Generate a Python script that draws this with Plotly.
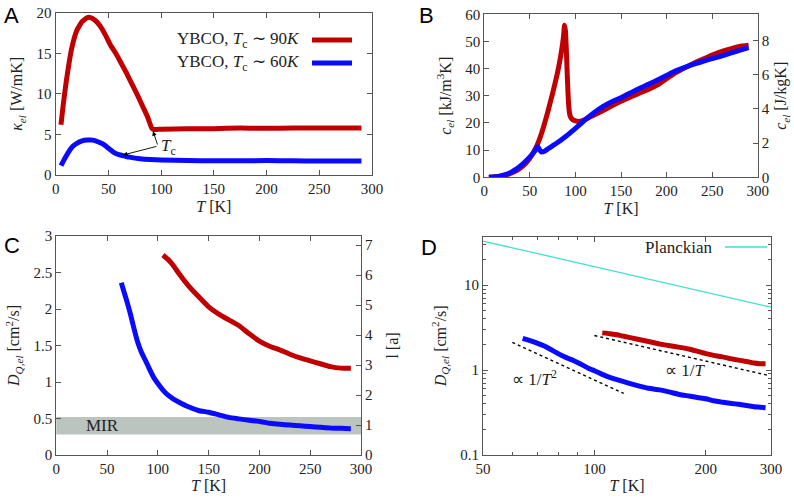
import math
import plotly.graph_objects as go

# ---------------- data ----------------
# Panel A: kappa_el [W/mK] vs T [K]
a_red_T = [5, 7, 10, 15, 20, 25, 30, 33, 37, 42, 47, 52, 57, 62, 67, 72, 77, 82, 87, 91, 93,
           100, 125, 150, 175, 200, 225, 250, 275, 290]
a_red_k = [6.2, 8.5, 11.5, 15.5, 17.8, 18.9, 19.4, 19.4, 19.1, 18.4, 17.3, 16.0, 15.0, 13.8, 12.6,
           11.3, 10.0, 8.6, 7.2, 5.8, 5.6, 5.65, 5.7, 5.7, 5.8, 5.75, 5.8, 5.8, 5.8, 5.8]
a_blue_T = [5, 8, 12, 16, 20, 25, 30, 35, 40, 45, 50, 55, 60, 65, 70, 80, 90, 100, 125, 150, 175,
            200, 225, 250, 275, 290]
a_blue_k = [1.15, 1.9, 2.8, 3.5, 3.9, 4.2, 4.3, 4.3, 4.1, 3.8, 3.3, 2.8, 2.5, 2.35, 2.2, 2.0, 1.9,
            1.85, 1.78, 1.75, 1.75, 1.78, 1.75, 1.72, 1.72, 1.72]

# Panel B: c_el [kJ/m^3K] vs T [K]
b_red_T = [5, 10, 15, 20, 25, 30, 35, 40, 45, 50, 55, 60, 65, 70, 75, 80, 84, 87, 88, 89, 90, 91,
           92, 93, 94, 96, 100, 105, 110, 120, 130, 140, 150, 160, 170, 180, 190, 200, 210, 220,
           230, 240, 250, 260, 270, 280, 290]
b_red_c = [0, 0.1, 0.3, 0.6, 1.0, 1.6, 2.4, 3.5, 5.0, 7.0, 9.8, 13.5, 18.5, 24.5, 31, 38, 45, 52,
           56, 54, 47, 38, 30, 25, 22.8, 21.5, 20.8, 20.6, 21.2, 22.8, 24.5, 26.3, 28, 29.5, 31,
           32.3, 34, 36.3, 38.5, 40.3, 42, 43.5, 45, 46.3, 47.3, 48.2, 48.6]
b_blue_T = [5, 10, 15, 20, 25, 30, 35, 40, 45, 50, 55, 58, 59, 61, 63, 66, 70, 80, 90, 100, 110,
            120, 130, 140, 150, 160, 170, 180, 190, 200, 210, 220, 230, 240, 250, 260, 270, 280, 290]
b_blue_c = [0, 0.1, 0.3, 0.7, 1.2, 2.0, 3.0, 4.3, 5.8, 7.5, 9.5, 11.0, 11.2, 10.0, 9.3, 9.6, 10.5,
            12.7, 15.2, 18, 21, 23.7, 26, 27.8, 29.3, 31, 32.7, 34.2, 35.8, 37.5, 39.2, 40.5,
            41.7, 42.7, 43.7, 44.6, 45.7, 46.7, 47.7]

# Panels C and D: D_Q,el [cm^2/s] vs T [K]
cd_red_T = [105, 110, 115, 120, 130, 140, 150, 160, 170, 180, 190, 200, 210, 220, 230, 240, 250,
            260, 270, 280, 290]
cd_red_D = [2.74, 2.68, 2.60, 2.50, 2.32, 2.17, 2.03, 1.93, 1.85, 1.77, 1.66, 1.56, 1.49, 1.44,
            1.38, 1.33, 1.29, 1.25, 1.21, 1.19, 1.19]
cd_blue_T = [64, 67, 70, 73, 76, 80, 84, 88, 92, 96, 100, 105, 110, 115, 120, 130, 140, 150, 160,
             170, 180, 190, 200, 210, 220, 230, 240, 250, 260, 270, 280, 290]
cd_blue_D = [2.36, 2.22, 2.08, 1.93, 1.76, 1.55, 1.40, 1.29, 1.17, 1.06, 0.98, 0.89, 0.82, 0.77,
             0.73, 0.66, 0.61, 0.585, 0.55, 0.515, 0.495, 0.475, 0.46, 0.435, 0.42, 0.41, 0.40,
             0.39, 0.38, 0.37, 0.365, 0.36]
mir_band = [0.28, 0.52]

planck_T = [50, 300]
planck_D = [33.0, 5.5]
guide_T2_T = [60, 120]
guide_T2_D = [2.12, 0.53]
guide_T1_T = [100, 295]
guide_T1_D = [2.55, 0.865]

legend_labels = ["YBCO, <i>T</i><sub>c</sub> ∼ 90<i>K</i>", "YBCO, <i>T</i><sub>c</sub> ∼ 60<i>K</i>"]

# ---------------- style ----------------
RED = "#c00000"
BLUE = "#0a0aff"
CYAN = "#40e0d0"
SERIF = "Liberation Serif"
W = 794
H = 500
LW = 5

def px_x(p):
    return p / W

def px_y(p):
    return 1 - p / H

fig = go.Figure()

def line(x, y, xa, ya, color, width=LW, dash=None):
    fig.add_trace(go.Scatter(x=x, y=y, xaxis=xa, yaxis=ya, mode="lines",
                             line=dict(color=color, width=width, dash=dash, shape="spline", smoothing=0.4),
                             showlegend=False, hoverinfo="skip"))

# A
line(a_red_T, a_red_k, "x", "y", RED)
line(a_blue_T, a_blue_k, "x", "y", BLUE)
# B
line(b_red_T, b_red_c, "x2", "y2", RED)
line(b_blue_T, b_blue_c, "x2", "y2", BLUE)
# C
line(cd_red_T, cd_red_D, "x3", "y3", RED)
line(cd_blue_T, cd_blue_D, "x3", "y3", BLUE)
# D
fig.add_trace(go.Scatter(x=planck_T, y=planck_D, xaxis="x4", yaxis="y4", mode="lines",
                         line=dict(color=CYAN, width=1.3), showlegend=False, hoverinfo="skip"))
for gx, gy in [(guide_T2_T, guide_T2_D), (guide_T1_T, guide_T1_D)]:
    fig.add_trace(go.Scatter(x=gx, y=gy, xaxis="x4", yaxis="y4", mode="lines",
                             line=dict(color="black", width=1.4, dash="dot"),
                             showlegend=False, hoverinfo="skip"))
line(cd_red_T, cd_red_D, "x4", "y4", RED)
line(cd_blue_T, cd_blue_D, "x4", "y4", BLUE)

# dummy traces to show secondary axes
fig.add_trace(go.Scatter(x=[None], y=[None], xaxis="x2", yaxis="y5", showlegend=False, hoverinfo="skip"))
fig.add_trace(go.Scatter(x=[None], y=[None], xaxis="x3", yaxis="y6", showlegend=False, hoverinfo="skip"))

TICKFONT = dict(family=SERIF, size=15, color="#222")
TITLEFONT = dict(family=SERIF, size=16, color="#222")
common = dict(showline=True, linecolor="#555", linewidth=1.2, ticks="inside", ticklen=5,
              tickcolor="#555", tickwidth=1, showgrid=False, zeroline=False,
              tickfont=TICKFONT, automargin=False)

def ax(**kw):
    d = dict(common)
    d.update(kw)
    return d

TK = "<i>T</i> [K]"
DQ = "<i>D</i><sub><i>Q,el</i></sub> [cm<sup>2</sup>/s]"

fig.update_layout(
    width=W, height=H, margin=dict(l=0, r=0, t=0, b=0),
    paper_bgcolor="white", plot_bgcolor="white", showlegend=False,
    font=dict(family=SERIF),
    xaxis=ax(domain=[px_x(55.7), px_x(372)], range=[0, 300], dtick=50, anchor="y", mirror="ticks",
             title=dict(text=TK, font=TITLEFONT, standoff=4)),
    yaxis=ax(domain=[px_y(175), px_y(12.7)], range=[0, 20], dtick=5, anchor="x", mirror="ticks",
             title=dict(text="<i>κ</i><sub><i>el</i></sub> [W/mK]", font=TITLEFONT, standoff=9)),
    xaxis2=ax(domain=[px_x(484.3), px_x(757.7)], range=[0, 300], dtick=50, anchor="y2", mirror="ticks",
              title=dict(text=TK, font=TITLEFONT, standoff=4)),
    yaxis2=ax(domain=[px_y(177.3), px_y(14.3)], range=[0, 60], dtick=10, anchor="x2",
              title=dict(text="<i>c</i><sub><i>el</i></sub> [kJ/m<sup>3</sup>K]", font=TITLEFONT, standoff=9)),
    yaxis5=ax(overlaying="y2", side="right", anchor="x2", range=[0, 9.54], tickvals=[0, 2, 4, 6, 8],
              title=dict(text="<i>c</i><sub><i>el</i></sub> [J/kgK]", font=TITLEFONT, standoff=6)),
    xaxis3=ax(domain=[px_x(56.3), px_x(361)], range=[0, 300], dtick=50, anchor="y3", mirror="ticks",
              title=dict(text=TK, font=TITLEFONT, standoff=3)),
    yaxis3=ax(domain=[px_y(455), px_y(236)], range=[0, 3], dtick=0.5, anchor="x3",
              title=dict(text=DQ, font=TITLEFONT, standoff=9)),
    yaxis6=ax(overlaying="y3", side="right", anchor="x3", range=[0, 7.3], dtick=1,
              title=dict(text="l [a]", font=TITLEFONT, standoff=14)),
    xaxis4=ax(domain=[px_x(483), px_x(771)], type="log", range=[math.log10(50), math.log10(300)],
              tickvals=[50, 100, 200, 300], anchor="y4", mirror="ticks",
              minor=dict(tickvals=[60, 70, 80, 90], ticks="inside", ticklen=3, tickcolor="#555"),
              title=dict(text=TK, font=TITLEFONT, standoff=3)),
    yaxis4=ax(domain=[px_y(455), px_y(236.7)], type="log", range=[-1, 1.57],
              tickvals=[0.1, 1, 10], ticktext=["0.1", "1", "10"], anchor="x4", mirror="ticks",
              minor=dict(tickvals=[0.2, 0.3, 0.4, 0.5, 0.6, 0.7, 0.8, 0.9, 2, 3, 4, 5, 6, 7, 8, 9, 20, 30],
                         ticks="inside", ticklen=3, tickcolor="#555"),
              title=dict(text=DQ, font=TITLEFONT, standoff=9)),
)

shapes = []
# MIR bands
shapes.append(dict(type="rect", xref="x3 domain", yref="y3", x0=0, x1=1, y0=mir_band[0], y1=mir_band[1],
                   fillcolor="#bcc4c0", line=dict(width=0), layer="below"))
shapes.append(dict(type="rect", xref="x4 domain", yref="y4", x0=0, x1=1,
                   y0=math.log10(mir_band[0]), y1=math.log10(mir_band[1]),
                   fillcolor="#bcc4c0", line=dict(width=0), layer="below"))
# legend samples
shapes.append(dict(type="line", xref="paper", yref="paper", x0=px_x(312), x1=px_x(352),
                   y0=px_y(40), y1=px_y(40), line=dict(color=RED, width=LW)))
shapes.append(dict(type="line", xref="paper", yref="paper", x0=px_x(312), x1=px_x(352),
                   y0=px_y(63), y1=px_y(63), line=dict(color=BLUE, width=LW)))
shapes.append(dict(type="line", xref="paper", yref="paper", x0=px_x(725), x1=px_x(767),
                   y0=px_y(247), y1=px_y(247), line=dict(color=CYAN, width=1.3)))
fig.update_layout(shapes=shapes)

ann = []
TEXTFONT = dict(family=SERIF, size=17, color="#222")
ann.append(dict(xref="paper", yref="paper", x=px_x(302), y=px_y(40), text=legend_labels[0],
                showarrow=False, xanchor="right", yanchor="middle", font=TEXTFONT))
ann.append(dict(xref="paper", yref="paper", x=px_x(302), y=px_y(63), text=legend_labels[1],
                showarrow=False, xanchor="right", yanchor="middle", font=TEXTFONT))
ann.append(dict(xref="paper", yref="paper", x=px_x(715), y=px_y(247), text="Planckian",
                showarrow=False, xanchor="right", yanchor="middle", font=TEXTFONT))
# Tc arrows
for hx, hy in [(92.3, 5.4), (63.8, 2.46)]:
    ann.append(dict(xref="x", yref="y", x=hx, y=hy, axref="x", ayref="y", ax=97, ay=3.57, text="",
                    showarrow=True, arrowhead=2, arrowsize=1, arrowwidth=0.9, arrowcolor="black",
                    standoff=0, startstandoff=0))
ann.append(dict(xref="x", yref="y", x=97.5, y=3.5, text="<i>T</i><sub>c</sub>", showarrow=False,
                xanchor="left", yanchor="middle", font=TEXTFONT))
ann.append(dict(xref="x3", yref="y3", x=45, y=0.4, text="MIR", showarrow=False, font=TEXTFONT))
ann.append(dict(xref="x4", yref="y4", x=math.log10(69), y=math.log10(0.8),
                text="∝ 1/<i>T</i><sup>2</sup>", showarrow=False, font=TEXTFONT))
ann.append(dict(xref="x4", yref="y4", x=math.log10(176), y=math.log10(1.0),
                text="∝ 1/<i>T</i>", showarrow=False, font=TEXTFONT))
# panel letters
LET = dict(family="Liberation Sans", size=22, color="black")
for t, x, y in [("A", 2, 1), ("B", 417, 1), ("C", 2, 231), ("D", 419, 233)]:
    ann.append(dict(xref="paper", yref="paper", x=px_x(x), y=px_y(y), text=t, showarrow=False,
                    xanchor="left", yanchor="top", font=LET))
fig.update_layout(annotations=ann)

fig.write_html("out.html")
